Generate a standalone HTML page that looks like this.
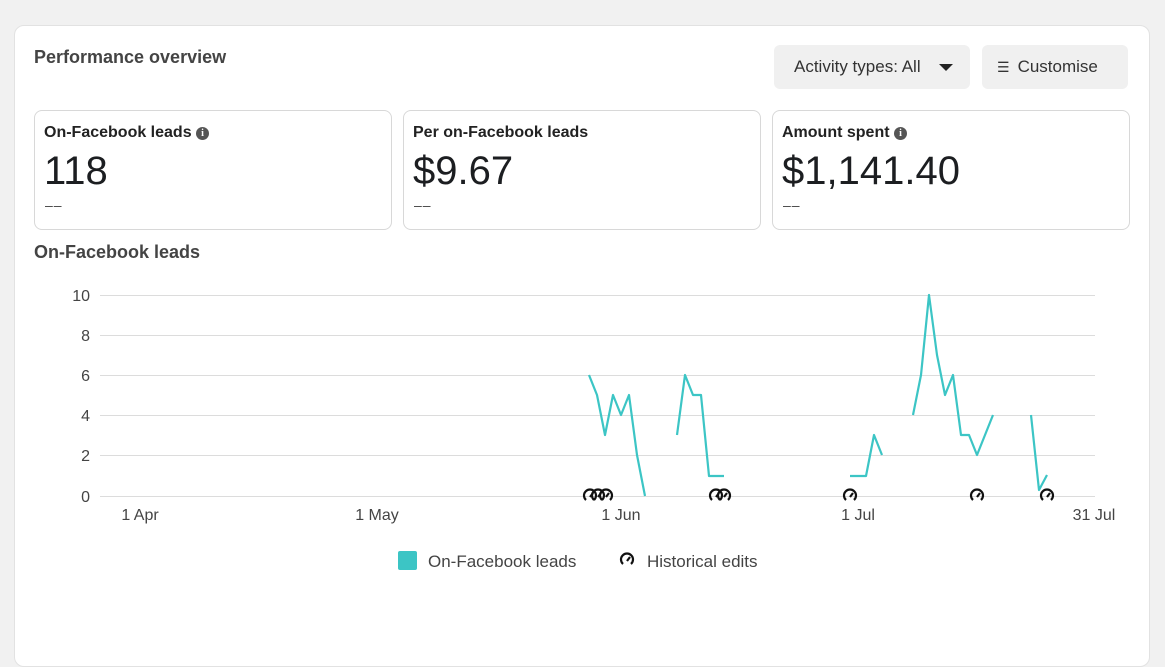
<!DOCTYPE html>
<html><head><style>
body{margin:0;width:1165px;height:641px;background:#f1f1f1;font-family:"Liberation Sans",sans-serif;position:relative;overflow:hidden;color:#1c1e21}
.card{position:absolute;left:14px;top:25px;width:1134px;height:640px;background:#fff;border:1px solid #e2e2e2;border-radius:10px}
.abs{position:absolute}
.btn{position:absolute;top:45px;height:44px;background:#f0f0f0;border-radius:6px;font-size:17px;color:#333;line-height:44px}
.m{position:absolute;top:110px;height:118px;border:1px solid #d8d8d8;border-radius:8px;background:#fff}
.m .t{position:absolute;left:9px;top:13px;font-size:16px;font-weight:bold;color:#222}
.m .v{position:absolute;left:9px;top:38px;font-size:40px;color:#1c1e21}
.m .d{position:absolute;left:10px;top:86px;font-size:14px;color:#444;letter-spacing:1px}
.i{display:inline-block;width:13px;height:13px;border-radius:50%;background:#555;color:#fff;font-size:10px;line-height:13px;text-align:center;vertical-align:1px;font-family:"Liberation Serif",serif;font-weight:bold}
</style></head><body>
<div class="card"></div>
<div class="abs" style="left:34px;top:47px;font-size:18px;font-weight:bold;color:#444">Performance overview</div>
<div class="btn" style="left:774px;width:196px"><span style="margin-left:20px">Activity types: All</span><span style="position:absolute;left:165px;top:19px;width:0;height:0;border-left:7px solid transparent;border-right:7px solid transparent;border-top:7px solid #222"></span></div>
<div class="btn" style="left:982px;width:146px"><span style="margin-left:15px;font-size:14px">☰</span><span style="margin-left:8px">Customise</span></div>
<div class="m" style="left:34px;width:356px"><div class="t">On-Facebook leads <span class="i">i</span></div><div class="v">118</div><div class="d">––</div></div>
<div class="m" style="left:403px;width:356px"><div class="t">Per on-Facebook leads</div><div class="v">$9.67</div><div class="d">––</div></div>
<div class="m" style="left:772px;width:356px"><div class="t">Amount spent <span class="i">i</span></div><div class="v">$1,141.40</div><div class="d">––</div></div>
<div class="abs" style="left:34px;top:242px;font-size:18px;font-weight:bold;color:#444">On-Facebook leads</div>
<svg class="abs" style="left:0;top:0" width="1165" height="641">
<defs><path id="e" d="M-4,4 A6,6 0 1 1 4,4 M0,1 L3,-3"/></defs>
<g stroke="#dcdcdc" stroke-width="1">
<line x1="100" x2="1095" y1="295.5" y2="295.5"/><line x1="100" x2="1095" y1="335.5" y2="335.5"/><line x1="100" x2="1095" y1="375.5" y2="375.5"/><line x1="100" x2="1095" y1="415.5" y2="415.5"/><line x1="100" x2="1095" y1="455.5" y2="455.5"/><line x1="100" x2="1095" y1="496.5" y2="496.5"/>
</g>
<g font-size="16" fill="#444" text-anchor="end">
<text x="90" y="301">10</text><text x="90" y="341">8</text><text x="90" y="381">6</text><text x="90" y="421">4</text><text x="90" y="461">2</text><text x="90" y="502">0</text>
</g>
<g font-size="16" fill="#444" text-anchor="middle">
<text x="140" y="520">1 Apr</text><text x="377" y="520">1 May</text><text x="621" y="520">1 Jun</text><text x="858" y="520">1 Jul</text><text x="1094" y="520">31 Jul</text>
</g>
<g fill="none" stroke="#3cc5c5" stroke-width="2.2" stroke-linejoin="round">
<polyline points="589,375 597,395 605,435 613,395 621,415 629,395 637,455 645,496"/>
<polyline points="677,435 685,375 693,395 701,395 709,476 724,476"/>
<polyline points="850,476 866,476 874,435 882,455"/>
<polyline points="913,415 921,375 929,295 937,355 945,395 953,375 961,435 969,435 977,455 993,415"/>
<polyline points="1031,415 1039,490 1047,475"/>
</g>
<g fill="none" stroke="#111" stroke-width="2.2">
<use href="#e" x="590" y="496"/><use href="#e" x="598" y="496"/><use href="#e" x="606" y="496"/>
<use href="#e" x="716" y="496"/><use href="#e" x="724" y="496"/>
<use href="#e" x="850" y="496"/><use href="#e" x="977" y="496"/><use href="#e" x="1047" y="496"/>
<use href="#e" x="627" y="560"/>
</g>
<rect x="398" y="551" width="19" height="19" rx="2" fill="#3cc5c5"/>
<text x="428" y="567" font-size="17" fill="#444">On-Facebook leads</text>
<text x="647" y="567" font-size="17" fill="#444">Historical edits</text>
</svg>
</body></html>
